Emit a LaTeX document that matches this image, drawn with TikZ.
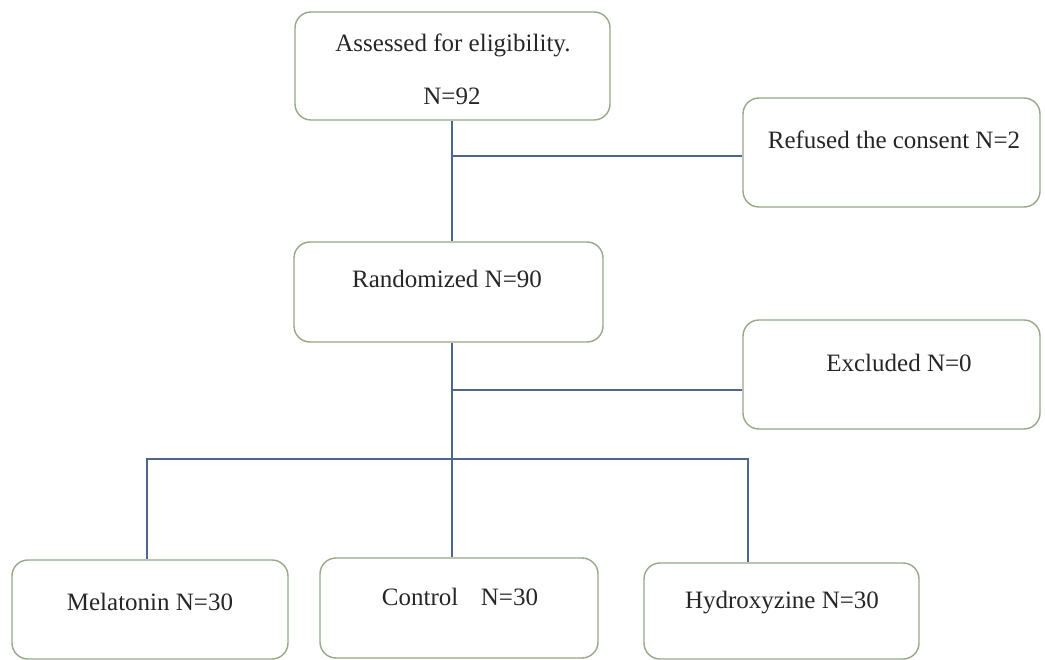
\documentclass[tikz,border=0pt]{standalone}
\usepackage{fontspec}
\setmainfont{Liberation Serif}
\usepackage{xcolor}
\usetikzlibrary{calc}
\definecolor{boxgreen}{RGB}{150,168,135}
\definecolor{linkblue}{RGB}{78,102,138}

\begin{document}
\begin{tikzpicture}[x=1pt, y=-1pt,
  box/.style={draw=boxgreen, line width=1.4pt, rounded corners=16pt, inner sep=0pt},
  txt/.style={font=\fontsize{25}{30}\selectfont, anchor=base, inner sep=0pt, text=black!85},
  link/.style={draw=linkblue, line width=1.4pt}]
\useasboundingbox (0,0) rectangle (1045,660);

% Boxes
\node[box, minimum width=315pt, minimum height=108pt] (assess) at (452.5,66) {};
\node[box, minimum width=297pt, minimum height=109pt] (refused) at (891.5,152.5) {};
\node[box, minimum width=309pt, minimum height=100pt] (random) at (448.5,292) {};
\node[box, minimum width=297pt, minimum height=109pt] (exclud) at (891.5,374.5) {};
\node[box, minimum width=276pt, minimum height=99pt] (melat) at (150,609.5) {};
\node[box, minimum width=278pt, minimum height=100pt] (control) at (459,608) {};
\node[box, minimum width=275pt, minimum height=96pt] (hydrox) at (781.5,611) {};

% Texts
\node[txt] (assesstxt) at (453,52) {Assessed for eligibility.};
\node[txt] (assessn) at (452,105) {N=92};
\node[txt] (refusedtxt) at (894,149) {Refused the consent N=2};
\node[txt] (randomtxt) at (447,288) {Randomized N=90};
\node[txt] (excludtxt) at (899,372) {Excluded N=0};
\node[txt] (melattxt) at (150,610) {Melatonin N=30};
\node[txt] (controltxt) at (460,605) {Control\hspace{0.9em}N=30};
\node[txt] (hydroxtxt) at (782,608) {Hydroxyzine N=30};

% Branch points
\coordinate (split1) at (452,156);
\coordinate (split2) at (452,390);
\coordinate (split3) at (452,459);
\coordinate (leftbr) at (147,459);
\coordinate (rightbr) at (748,459);

% Connectors
\draw[link] (assess.south -| split1) -- (random.north -| split1);
\draw[link] (split1) -- (split1 -| refused.west);
\draw[link] (random.south -| split2) -- (control.north -| split2);
\draw[link] (split2) -- (split2 -| exclud.west);
\draw[link] (melat.north -| leftbr) -- (leftbr) -- (rightbr) -- (hydrox.north -| rightbr);
\end{tikzpicture}
\end{document}
